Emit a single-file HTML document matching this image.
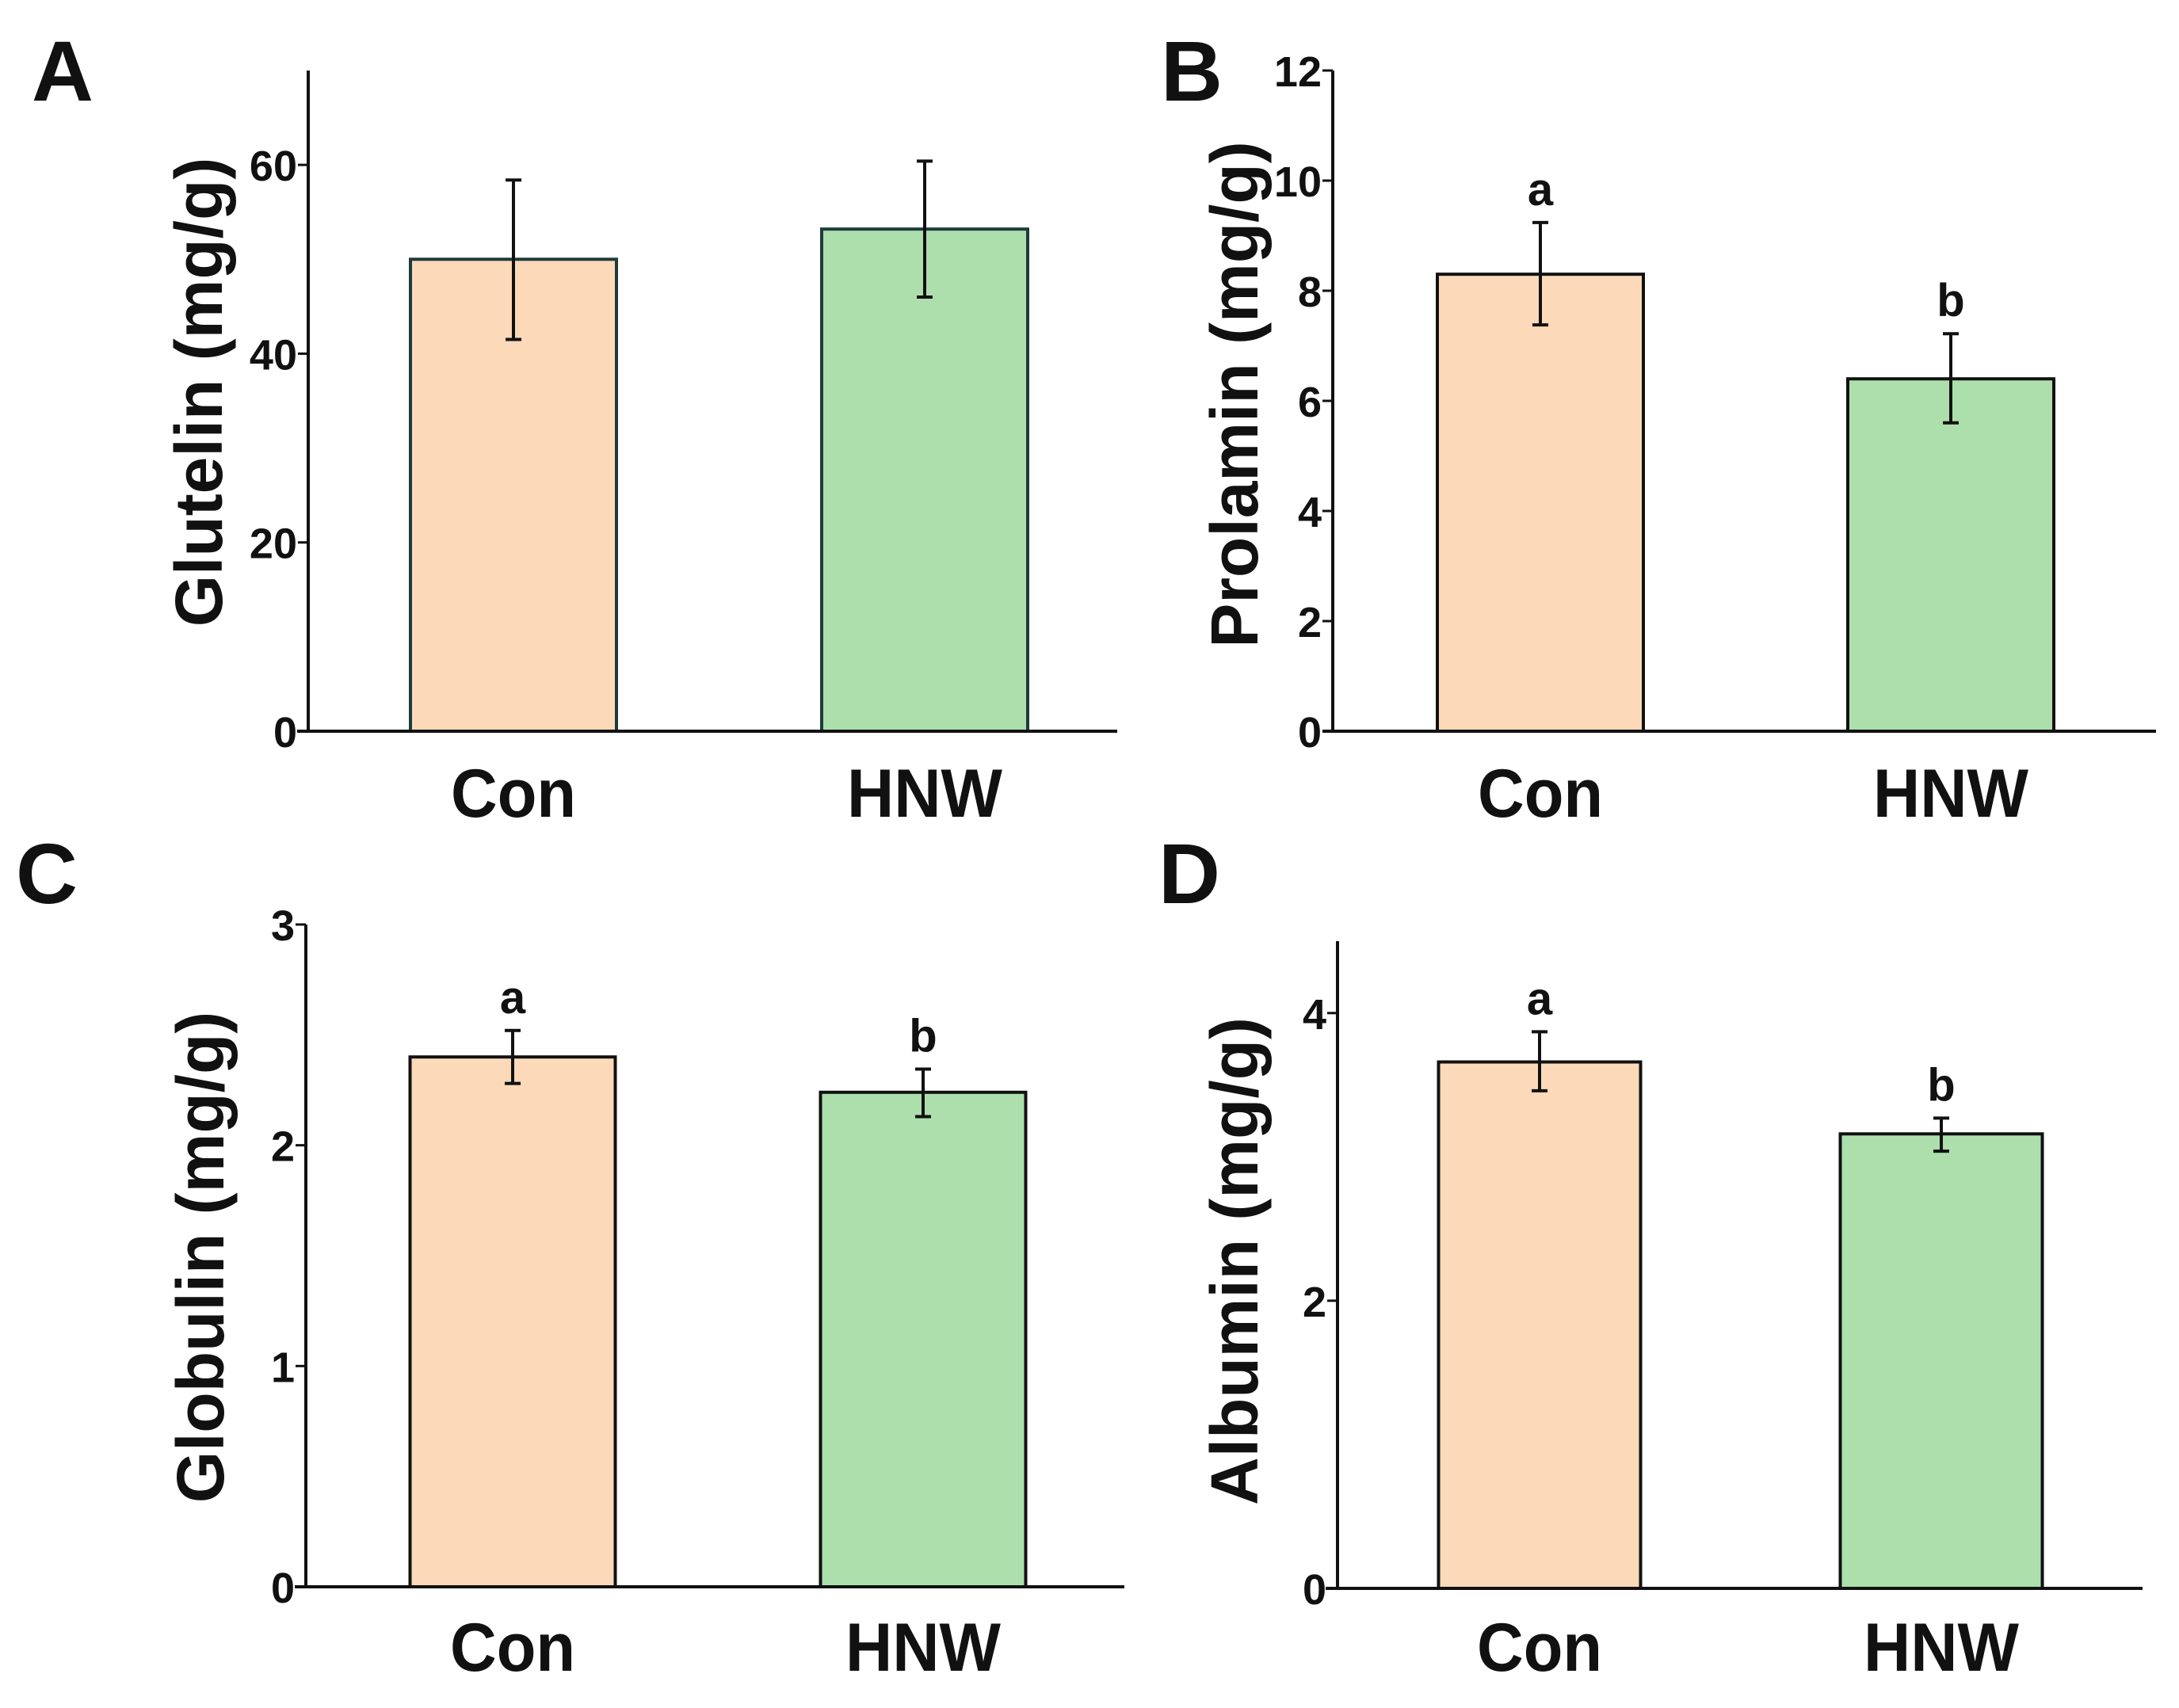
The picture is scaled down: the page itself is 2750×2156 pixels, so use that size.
<!DOCTYPE html>
<html><head><meta charset="utf-8"><style>
html,body{margin:0;padding:0;background:#fff}
svg{display:block}
.tk{font-family:"Liberation Sans Narrow","Liberation Sans",sans-serif;font-weight:bold;font-size:54px;fill:#111}
.ttl{font-family:"Liberation Sans",sans-serif;font-weight:bold;font-size:84px;fill:#111}
.cat{font-family:"Liberation Sans",sans-serif;font-weight:bold;font-size:86px;fill:#111}
.pl{font-family:"Liberation Sans",sans-serif;font-weight:bold;font-size:108px;fill:#111}
.sig{font-family:"Liberation Sans Narrow","Liberation Sans",sans-serif;font-weight:bold;font-size:58px;fill:#111}
</style></head><body>
<svg id="fig" width="2750" height="2156" viewBox="0 0 2750 2156" xmlns="http://www.w3.org/2000/svg"></svg>
<script>
const categories = ["Con", "HNW"];
const glutelinMeans = [50.0, 53.2];
const glutelinErrHi = [58.4, 60.4];
const glutelinErrLo = [41.5, 46.0];
const glutelinTicks = [0, 20, 40, 60];
const prolaminMeans = [8.30, 6.40];
const prolaminErrHi = [9.24, 7.22];
const prolaminErrLo = [7.38, 5.60];
const prolaminTicks = [0, 2, 4, 6, 8, 10, 12];
const prolaminSig = ["a", "b"];
const globulinMeans = [2.40, 2.24];
const globulinErrHi = [2.52, 2.345];
const globulinErrLo = [2.28, 2.13];
const globulinTicks = [0, 1, 2, 3];
const globulinSig = ["a", "b"];
const albuminMeans = [3.66, 3.16];
const albuminErrHi = [3.87, 3.27];
const albuminErrLo = [3.46, 3.04];
const albuminTicks = [0, 2, 4];
const albuminSig = ["a", "b"];

const NS = "http://www.w3.org/2000/svg";
const fig = document.getElementById("fig");
function mk(tag, attrs, parent) {
  const e = document.createElementNS(NS, tag);
  for (const k in attrs) e.setAttribute(k, attrs[k]);
  parent.appendChild(e);
  return e;
}
const fills = ["#fbd9b9", "#addfad"];
const catWidths = [158, 196];

function panel(p) {
  const g = mk("g", {}, fig);
  
  
  const yS = v => p.y0 - (v / p.ymax) * (p.y0 - p.yTop);
  const xS = i => p.centers[i];
  const L = mk("text", {x: p.lx, y: p.ly, class: "pl"}, g);
  L.textContent = p.letter;
  
  
  p.means.forEach((m, i) => {
    const r = mk("rect", {x: xS(i) - p.bw / 2, y: yS(m), width: p.bw, height: p.y0 - yS(m),
      fill: fills[i], stroke: p.stroke, "stroke-width": 4}, g);
    
    
    const eb = mk("path", {d: `M${xS(i)},${yS(p.hi[i])}V${yS(p.lo[i])}M${xS(i)-10},${yS(p.hi[i])}H${xS(i)+10}M${xS(i)-10},${yS(p.lo[i])}H${xS(i)+10}`,
      stroke: "#111", "stroke-width": 4, fill: "none"}, g);
    
    
    if (p.sig) {
      const s = mk("text", {x: xS(i), y: yS(p.hi[i]) - 22, class: "sig", "text-anchor": "middle"}, g);
      s.textContent = p.sig[i];
      
      
    }
    const c = mk("text", {x: xS(i) - catWidths[i] / 2, y: p.catY, class: "cat",
      textLength: catWidths[i], lengthAdjust: "spacingAndGlyphs"}, g);
    c.textContent = categories[i];
    
    
  });
  const ya = mk("line", {x1: p.ax, x2: p.ax, y1: p.yTop, y2: p.y0, stroke: "#111", "stroke-width": 4}, g);
  
  
  const xa = mk("line", {x1: p.xa0, x2: p.xa1, y1: p.y0, y2: p.y0, stroke: "#111", "stroke-width": 4}, g);
  
  
  p.ticks.forEach(t => {
    const tl = mk("line", {x1: p.ax - 13, x2: p.ax, y1: yS(t), y2: yS(t), stroke: "#111", "stroke-width": 3}, g);
    
    
    const tt = mk("text", {x: p.ax - 14, y: yS(t) + 20, class: "tk", "text-anchor": "end"}, g);
    tt.textContent = t;
    
    
  });
  const ti = mk("text", {x: 0, y: 0, class: "ttl", "text-anchor": "middle",
    transform: `translate(${p.tx},${p.ty}) rotate(-90)`}, g);
  ti.textContent = p.title;
  
  
}

panel({letter: "A", lx: 40, ly: 127, means: glutelinMeans, hi: glutelinErrHi, lo: glutelinErrLo, ticks: glutelinTicks,
  ymax: 70, y0: 923, yTop: 89, ax: 389, xa0: 375, xa1: 1410, centers: [648, 1167], bw: 260, stroke: "#1d3b3b",
  catY: 1031, title: "Glutelin (mg/g)", tx: 280, ty: 495});
panel({letter: "B", lx: 1465, ly: 127, means: prolaminMeans, hi: prolaminErrHi, lo: prolaminErrLo, ticks: prolaminTicks,
  sig: prolaminSig, ymax: 12, y0: 923, yTop: 89, ax: 1682, xa0: 1669, xa1: 2721, centers: [1944, 2462], bw: 260, stroke: "#111",
  catY: 1031, title: "Prolamin (mg/g)", tx: 1587, ty: 498});
panel({letter: "C", lx: 20, ly: 1140, means: globulinMeans, hi: globulinErrHi, lo: globulinErrLo, ticks: globulinTicks,
  sig: globulinSig, ymax: 3, y0: 2003, yTop: 1167, ax: 386, xa0: 372, xa1: 1419, centers: [647, 1165], bw: 259, stroke: "#111",
  catY: 2109, title: "Globulin (mg/g)", tx: 282, ty: 1587});
panel({letter: "D", lx: 1462, ly: 1140, means: albuminMeans, hi: albuminErrHi, lo: albuminErrLo, ticks: albuminTicks,
  sig: albuminSig, ymax: 4.5, y0: 2005, yTop: 1188, ax: 1688, xa0: 1673, xa1: 2704, centers: [1943, 2450], bw: 255, stroke: "#111",
  catY: 2109, title: "Albumin (mg/g)", tx: 1587, ty: 1592});
</script>
</body></html>
